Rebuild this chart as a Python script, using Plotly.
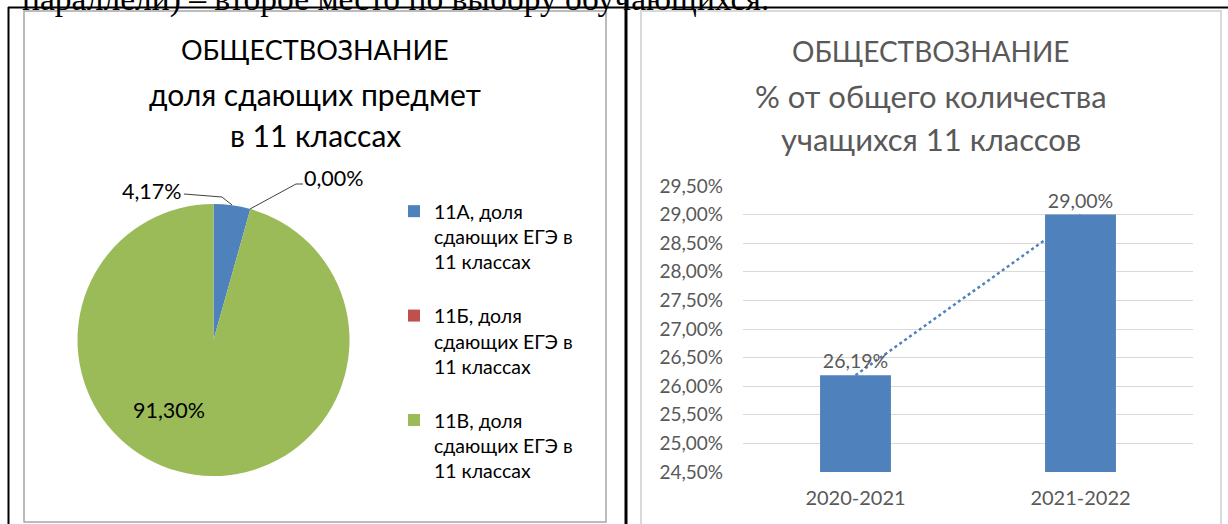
import plotly.graph_objects as go

# ---- данные ----
pie_labels = [
    "11А, доля<br>сдающих ЕГЭ в<br>11 классах<br> ",
    "11Б, доля<br>сдающих ЕГЭ в<br>11 классах<br> ",
    "11В, доля<br>сдающих ЕГЭ в<br>11 классах",
]
pie_values = [4.17, 0.00, 91.30]
pie_colors = ["#4F81BD", "#C0504D", "#9BBB59"]

years = ["2020-2021", "2021-2022"]
shares = [26.19, 29.00]
y_ticks = [24.5, 25.0, 25.5, 26.0, 26.5, 27.0, 27.5, 28.0, 28.5, 29.0, 29.5]

# ---- стиль ----
W, H = 1228, 524
FONT = "Lato"
BLUE = "#4F81BD"
GRAY_TXT = "#595959"
GRID = "#D9D9D9"


def px(x):
    return x / W


def py(y):
    return 1 - y / H


def pct(v):
    return f"{v:.2f}".replace(".", ",") + "%"


fig = go.Figure()

fig.add_trace(go.Pie(
    labels=pie_labels, values=pie_values,
    marker=dict(colors=pie_colors, line=dict(width=0)),
    sort=False, direction="clockwise", rotation=0,
    textinfo="none",
    domain=dict(x=[px(77.5), px(349.5)], y=[py(476), py(204)]),
    hoverinfo="label+value", showlegend=True,
))

# линия тренда (под столбцами)
fig.add_trace(go.Scatter(
    x=years, y=shares, mode="lines",
    line=dict(color=BLUE, width=2.5, dash="dot"),
    xaxis="x", yaxis="y", showlegend=False, hoverinfo="skip",
))

fig.add_trace(go.Bar(
    x=years, y=shares, marker=dict(color=BLUE, line=dict(width=0)),
    width=0.315,
    text=[pct(v) for v in shares], textposition="outside", cliponaxis=False,
    textfont=dict(family=FONT, size=19.5, color=GRAY_TXT),
    xaxis="x", yaxis="y2", showlegend=False,
))

fig.update_layout(
    width=W, height=H, autosize=False,
    margin=dict(l=0, r=0, t=0, b=0, autoexpand=False),
    paper_bgcolor="white", plot_bgcolor="rgba(0,0,0,0)",
    separators=", ",
    font=dict(family=FONT, color="#000000"),
    xaxis=dict(domain=[px(743), px(1193)], showgrid=False, showline=False,
               ticks="", tickfont=dict(family=FONT, size=20, color=GRAY_TXT),
               ticklabelstandoff=12, fixedrange=True),
    yaxis=dict(domain=[py(472), py(186)], range=[24.5, 29.5],
               tickvals=y_ticks, ticktext=[pct(v) for v in y_ticks],
               showgrid=True, gridcolor=GRID, gridwidth=1, zeroline=False,
               showline=False, ticks="", ticklabelstandoff=19,
               tickfont=dict(family=FONT, size=19, color=GRAY_TXT), fixedrange=True),
    yaxis2=dict(overlaying="y", range=[24.5, 29.5], showgrid=False,
                showticklabels=False, zeroline=False, fixedrange=True),
    legend=dict(x=px(394), y=py(192), xanchor="left", yanchor="top",
                valign="top", font=dict(family=FONT, size=19.5, color="#000000"),
                itemwidth=30, bgcolor="rgba(0,0,0,0)"),
    showlegend=True,
)

P = dict(xref="paper", yref="paper")
# рамки таблицы и диаграмм
shapes = [
    dict(type="rect", x0=px(24), x1=px(606), y0=py(522), y1=py(11),
         line=dict(color="#A6A6A6", width=1.5), **P),
    dict(type="rect", x0=px(641), x1=px(1221), y0=py(540), y1=py(11),
         line=dict(color=GRID, width=2), **P),
    dict(type="line", x0=px(8), x1=px(1228), y0=py(7.5), y1=py(7.5),
         line=dict(color="#000000", width=2), **P),
    dict(type="line", x0=px(8.5), x1=px(8.5), y0=py(7), y1=py(530),
         line=dict(color="#000000", width=2), **P),
    dict(type="line", x0=px(626), x1=px(626), y0=py(0), y1=py(530),
         line=dict(color="#000000", width=3), **P),
    # выноски подписей круговой диаграммы
    dict(type="path", path=f"M {px(184)} {py(194)} L {px(222)} {py(197)} L {px(232)} {py(205)}",
         line=dict(color="#404040", width=1), **P),
    dict(type="path", path=f"M {px(303)} {py(184)} L {px(296)} {py(184)} L {px(250)} {py(209)}",
         line=dict(color="#404040", width=1), **P),
    # обрезанная строка текста документа (подпись невидимой линии)
    dict(type="line", x0=px(22), x1=px(900), y0=py(-5), y1=py(-5),
         line=dict(color="rgba(0,0,0,0)", width=0),
         label=dict(text="параллели) – второе место по выбору обучающихся.",
                    textposition="start", xanchor="left", yanchor="middle",
                    padding=0,
                    font=dict(family="Liberation Serif", size=33.5, color="#000000")),
         **P),
]
fig.update_layout(shapes=shapes)

ann = []
for t, y, s in [("ОБЩЕСТВОЗНАНИЕ", 50, 27), ("доля сдающих предмет", 94, 30), ("в 11 классах", 135, 30)]:
    ann.append(dict(text=t, x=px(315), y=py(y), xanchor="center", yanchor="middle",
                    font=dict(family=FONT, size=s, color="#000000")))
for t, y, s in [("ОБЩЕСТВОЗНАНИЕ", 51, 28), ("% от общего количества", 96, 31), ("учащихся 11 классов", 139, 31)]:
    ann.append(dict(text=t, x=px(931), y=py(y), xanchor="center", yanchor="middle",
                    font=dict(family=FONT, size=s, color=GRAY_TXT)))
for v, x, y in [(pie_values[0], 152, 191), (pie_values[1], 334, 178), (pie_values[2], 169, 410)]:
    ann.append(dict(text=pct(v), x=px(x), y=py(y), xanchor="center", yanchor="middle",
                    font=dict(family=FONT, size=21.5, color="#000000")))
for a in ann:
    a.update(xref="paper", yref="paper", showarrow=False)
fig.update_layout(annotations=ann)

# убрать отступы страницы, чтобы рисунок начинался с левого верхнего угла
fig.write_html(
    "out.html",
    config={"displayModeBar": False},
    post_script="document.body.style.margin='0';document.body.style.padding='0';",
)
